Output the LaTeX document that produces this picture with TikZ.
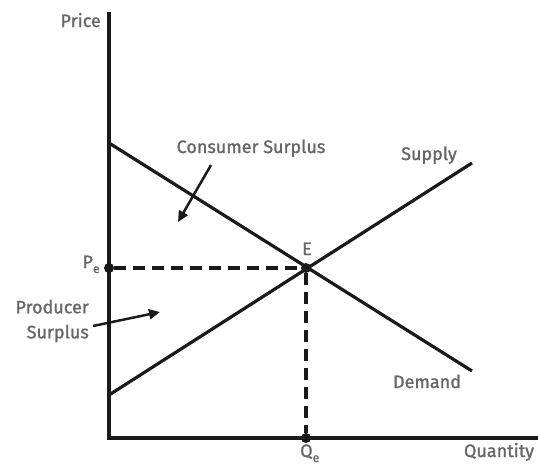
\documentclass[tikz,border=0pt]{standalone}
\usepackage{fontspec}
\setmainfont{Fira Sans}
\newfontfamily\lblfont{Fira Sans}[FakeBold=1.2]
\usetikzlibrary{arrows.meta}
\definecolor{lbl}{HTML}{666666}
\definecolor{ink}{HTML}{1A1A1A}
\newcommand{\sube}{\raisebox{-5pt}{\fontsize{12.5}{12.5}\selectfont e}}
\begin{document}
\begin{tikzpicture}[x=1pt,y=-1pt,
  lab/.style={text=lbl,font=\lblfont\fontsize{18}{25}\selectfont,inner sep=0pt},
  curve/.style={draw=ink,line width=3.2pt},
  guide/.style={draw=ink,line width=3.2pt,dash pattern=on 12pt off 7pt},
  pointer/.style={draw=ink,line width=2.5pt,-{Triangle[length=11pt,width=10pt]}},
  dot/.style={circle,fill=ink,inner sep=0pt,minimum size=10pt}]
\useasboundingbox (0,0) rectangle (538,466);
% axes
\coordinate (top) at (109,12);
\coordinate (O) at (109,438);
\coordinate (right) at (538,438);
\draw[curve] (top) -- (O) -- (right);
% curves
\coordinate (d1) at (109,143);
\coordinate (d2) at (472,371);
\coordinate (s1) at (109,395);
\coordinate (s2) at (472,163);
\draw[curve] (d1) -- (d2);
\draw[curve] (s1) -- (s2);
% points
\node[dot] (E) at (306,268) {};
\node[dot] (P) at (109,268) {};
\node[dot] (Q) at (306,438) {};
\draw[guide] (P) -- (E);
\draw[guide] (E) -- (Q);
% labels
\node[lab,anchor=base east] (price) at (101,27) {Price};
\node[lab,anchor=base] (cs) at (251,153) {Consumer Surplus};
\node[lab,anchor=base] (sup) at (429,160) {Supply};
\node[lab,anchor=base] (dem) at (427,388) {Demand};
\node[lab,anchor=base] (elab) at (307,255) {E};
\node[lab,anchor=base east] (pe) at (100,268) {P\sube};
\node[lab,anchor=base west] (qe) at (300,457) {Q\sube};
\node[lab,anchor=base] (qty) at (499,457) {Quantity};
\node[lab,align=right,anchor=east] (ps) at (89,321) {Producer\\Surplus};
\coordinate (csa) at (211,165);
\coordinate (csb) at (178,222);
\draw[pointer] (csa) -- (csb);
\coordinate (psa) at (93,326);
\coordinate (psb) at (160,312);
\draw[pointer] (psa) -- (psb);
\end{tikzpicture}
\end{document}
